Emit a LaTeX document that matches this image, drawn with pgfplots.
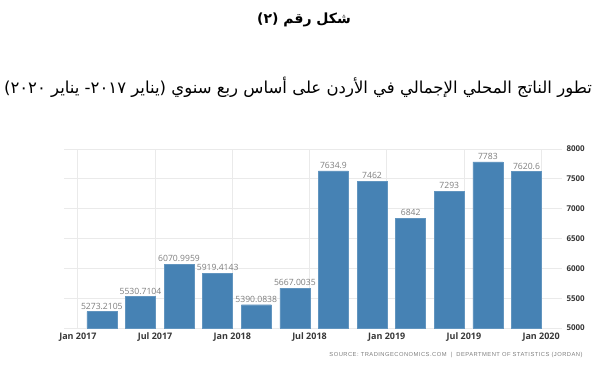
\documentclass[border=0pt]{standalone}
\usepackage{fontspec}
\usepackage{pgfplots}
\pgfplotsset{compat=1.18}
\usepackage{pgfplotstable}
\setmainfont{Open Sans}
\newfontfamily\arabicfont[Script=Arabic]{DejaVu Sans}
\newfontfamily\srcfont[LetterSpace=8]{Liberation Sans}
\TeXXeTstate=1
\definecolor{barblue}{RGB}{70,130,180}
\definecolor{gridgray}{RGB}{234,234,234}
\definecolor{labgray}{RGB}{125,125,125}
\definecolor{tickgray}{RGB}{55,55,55}
\pgfplotstableread{
x y lab
0 5273.2105 5273.2105
1 5530.7104 5530.7104
2 6070.9959 6070.9959
3 5919.4143 5919.4143
4 5390.0838 5390.0838
5 5667.0035 5667.0035
6 7634.9 7634.9
7 7462 7462
8 6842 6842
9 7293 7293
10 7783 7783
11 7620.6 7620.6
}\gdpdata
\begin{document}
\begin{tikzpicture}
\path[use as bounding box] (0pt,0pt) rectangle (600pt,380pt);
\node[font=\arabicfont\bfseries\fontsize{14}{16}\selectfont] at (304pt,360pt) {\beginR شكل رقم (٢)\endR};
\node[font=\arabicfont\fontsize{16.5}{19}\selectfont] at (298pt,293pt) {\beginR تطور الناتج المحلي الإجمالي في الأردن على أساس ربع سنوي (يناير ٢٠١٧- يناير ٢٠٢٠)\endR};
\begin{axis}[
  at={(64pt,52pt)}, anchor=south west,
  scale only axis, width=498pt, height=179pt,
  xmin=-0.98, xmax=11.92, ymin=5000, ymax=8000,
  ybar, bar width=30pt,
  axis line style={draw=none},
  major tick length=0pt,
  grid=major, grid style={gridgray, line width=0.8pt},
  xtick={-0.62,1.38,3.38,5.38,7.38,9.38,11.38},
  xticklabels={Jan 2017,Jul 2017,Jan 2018,Jul 2018,Jan 2019,Jul 2019,Jan 2020},
  ytick={5000,5500,6000,6500,7000,7500,8000},
  yticklabel pos=right,
  /pgf/number format/assume math mode=true,
  /pgf/number format/1000 sep={},
  xticklabel style={font=\bfseries\fontsize{9}{10}\selectfont, text=tickgray, yshift=-1pt},
  yticklabel style={font=\bfseries\fontsize{8}{10}\selectfont, text=tickgray, xshift=1pt},
  nodes near coords={\pgfplotspointmeta},
  point meta=explicit symbolic,
  every node near coord/.style={font=\fontsize{8.6}{10}\selectfont, text=labgray, inner sep=2pt},
  clip=false,
]
\addplot[fill=barblue, draw=barblue!85!white] table[x=x, y=y, meta=lab] {\gdpdata};
\end{axis}
\node[font=\srcfont\fontsize{5.8}{7}\selectfont, text=labgray] at (456pt,25pt) {SOURCE: TRADINGECONOMICS.COM \ | \ DEPARTMENT OF STATISTICS (JORDAN)};
\end{tikzpicture}
\end{document}
